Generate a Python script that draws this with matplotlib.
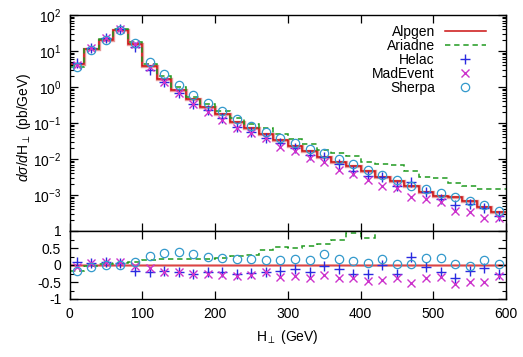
"""Differential H_perp distribution with ratio panel (Alpgen as reference)."""

import matplotlib
matplotlib.use("Agg")
import matplotlib.pyplot as plt
import numpy as np
from matplotlib.ticker import FixedLocator, LogLocator, MultipleLocator, NullFormatter, LogFormatterMathtext

plt.rcParams["font.family"] = ["Liberation Sans", "DejaVu Sans"]
plt.rcParams["mathtext.fontset"] = "custom"
plt.rcParams["mathtext.rm"] = "Liberation Sans"
plt.rcParams["mathtext.it"] = "Liberation Sans:italic"
plt.rcParams["axes.unicode_minus"] = False

# 20 GeV bins from 0 to 600 GeV
bin_edges = np.arange(0, 620, 20)
bin_centers = bin_edges[:-1] + 10

# pb/GeV
alpgen = [4.3, 11.7, 20.8, 37.8, 15.7, 3.9, 1.70, 0.84, 0.46, 0.28,
          0.175, 0.108, 0.072, 0.050, 0.033, 0.0235, 0.0165, 0.0113, 0.0083, 0.0063,
          0.0047, 0.0031, 0.0025, 0.0018, 0.00124, 0.00094, 0.00086, 0.00068, 0.00046, 0.00034]
ariadne = [3.6, 11.3, 21.4, 40.4, 17.3, 4.47, 1.98, 0.99, 0.54, 0.332,
           0.213, 0.137, 0.093, 0.072, 0.050, 0.0355, 0.0259, 0.0183, 0.0144, 0.0123,
           0.0084, 0.0072, 0.0066, 0.0045, 0.0031, 0.0029, 0.0021, 0.0018, 0.00145, 0.00145]

# (X - Alpgen) / Alpgen
helac_ratio = [0.08, 0.05, 0.08, 0.07, -0.17, -0.22, -0.19, -0.20, -0.25, -0.20,
               -0.21, -0.27, -0.24, -0.22, -0.18, -0.13, -0.22, -0.02, -0.12, -0.25,
               -0.27, 0.0, -0.27, 0.24, -0.05, -0.20, -0.39, -0.18, -0.08, -0.25]
madevent_ratio = [-0.05, 0.05, 0.08, 0.08, -0.02, -0.10, -0.20, -0.20, -0.25, -0.27,
                  -0.29, -0.32, -0.29, -0.22, -0.36, -0.31, -0.37, -0.29, -0.39, -0.39,
                  -0.46, -0.44, -0.39, -0.52, -0.39, -0.34, -0.57, -0.49, -0.51, -0.33]
sherpa_ratio = [-0.19, -0.06, 0.0, 0.01, 0.08, 0.27, 0.35, 0.39, 0.31, 0.25,
                0.20, 0.17, 0.18, 0.14, 0.15, 0.18, 0.15, 0.31, 0.18, 0.13,
                0.07, 0.18, 0.02, 0.02, 0.21, 0.21, 0.02, -0.02, 0.15, 0.04]

RED = "#cc1111"
RED_PALE = "#e89a9a"
GREEN = "#1f9a1f"
BLUE = "#2a2ae0"
MAGENTA = "#cc33cc"
CYAN = "#3399cc"


def style_axis(ax):
    ax.tick_params(which="both", direction="in", top=True, right=True, labelsize=10, pad=6)
    ax.tick_params(which="major", length=6, width=0.9)
    ax.tick_params(which="minor", length=3, width=0.8)
    for spine in ax.spines.values():
        spine.set_linewidth(1.0)


def main() -> None:
    alp = np.array(alpgen)
    ari = np.array(ariadne)
    helac = alp * (1 + np.array(helac_ratio))
    madevent = alp * (1 + np.array(madevent_ratio))
    sherpa = alp * (1 + np.array(sherpa_ratio))
    ari_ratio = ari / alp - 1

    fig = plt.figure(figsize=(5.23, 3.57), dpi=100)
    left, width = 69.5 / 523, 436.5 / 523
    ax = fig.add_axes([left, 1 - 231 / 357, width, 216 / 357])
    axr = fig.add_axes([left, 1 - 299 / 357, width, 68 / 357])

    # main panel
    ax.stairs(alp, bin_edges, baseline=None, color=RED_PALE, linewidth=2.4)
    ax.stairs(alp, bin_edges, baseline=None, color=RED, linewidth=1.1, label="Alpgen")
    ax.stairs(ari, bin_edges, baseline=None, color=GREEN, linewidth=1.1,
              linestyle=(0, (3.5, 2.5)), label="Ariadne")
    ax.plot(bin_centers, helac, linestyle="none", marker="+", markersize=7,
            markeredgewidth=1.0, color=BLUE, label="Helac")
    ax.plot(bin_centers, madevent, linestyle="none", marker="x", markersize=5.5,
            markeredgewidth=1.0, color=MAGENTA, label="MadEvent")
    ax.plot(bin_centers, sherpa, linestyle="none", marker="o", markersize=6,
            markerfacecolor="none", markeredgewidth=0.9, color=CYAN, label="Sherpa")

    ax.set_yscale("log")
    ax.set_xlim(0, 600)
    ax.set_ylim(1e-4, 1e2)
    ax.yaxis.set_major_locator(FixedLocator([1e-3, 1e-2, 1e-1, 1e0, 1e1, 1e2]))
    ax.yaxis.set_major_formatter(LogFormatterMathtext())
    ax.yaxis.set_minor_locator(LogLocator(base=10, subs=np.arange(2, 10), numticks=20))
    ax.yaxis.set_minor_formatter(NullFormatter())
    ax.xaxis.set_major_locator(MultipleLocator(100))
    ax.tick_params(axis="x", labelbottom=False)
    style_axis(ax)
    ax.set_ylabel(r"$d\sigma/d$H$_{\perp}$ (pb/GeV)", fontsize=10)
    ax.yaxis.set_label_coords(-0.084, 0.48)

    ax.legend(loc="upper right", frameon=False, markerfirst=False, numpoints=1,
              fontsize=10, handlelength=3.0, handletextpad=0.7, labelspacing=0.0,
              borderaxespad=0.3, bbox_to_anchor=(0.977, 1.0))

    # ratio panel
    axr.stairs(np.zeros_like(alp), bin_edges, baseline=None, color=RED_PALE, linewidth=2.0)
    axr.stairs(np.zeros_like(alp), bin_edges, baseline=None, color="#dd4444", linewidth=0.9)
    axr.stairs(ari_ratio, bin_edges, baseline=None, color=GREEN, linewidth=1.1,
               linestyle=(0, (3.5, 2.5)))
    axr.plot(bin_centers, helac_ratio, linestyle="none", marker="+", markersize=7,
             markeredgewidth=1.0, color=BLUE)
    axr.plot(bin_centers, madevent_ratio, linestyle="none", marker="x", markersize=5.5,
             markeredgewidth=1.0, color=MAGENTA)
    axr.plot(bin_centers, sherpa_ratio, linestyle="none", marker="o", markersize=6,
             markerfacecolor="none", markeredgewidth=0.9, color=CYAN)
    axr.set_xlim(0, 600)
    axr.set_ylim(-1, 1)
    axr.xaxis.set_major_locator(MultipleLocator(100))
    axr.yaxis.set_major_locator(FixedLocator([-1, -0.5, 0, 0.5, 1]))
    axr.set_yticklabels(["-1", "-0.5", "0", "0.5", "1"])
    axr.yaxis.set_minor_locator(MultipleLocator(0.25))
    style_axis(axr)
    axr.set_xlabel(r"H$_{\perp}$ (GeV)", fontsize=10, labelpad=5)

    fig.savefig("out.png", dpi=100)
    plt.close(fig)


if __name__ == "__main__":
    main()
